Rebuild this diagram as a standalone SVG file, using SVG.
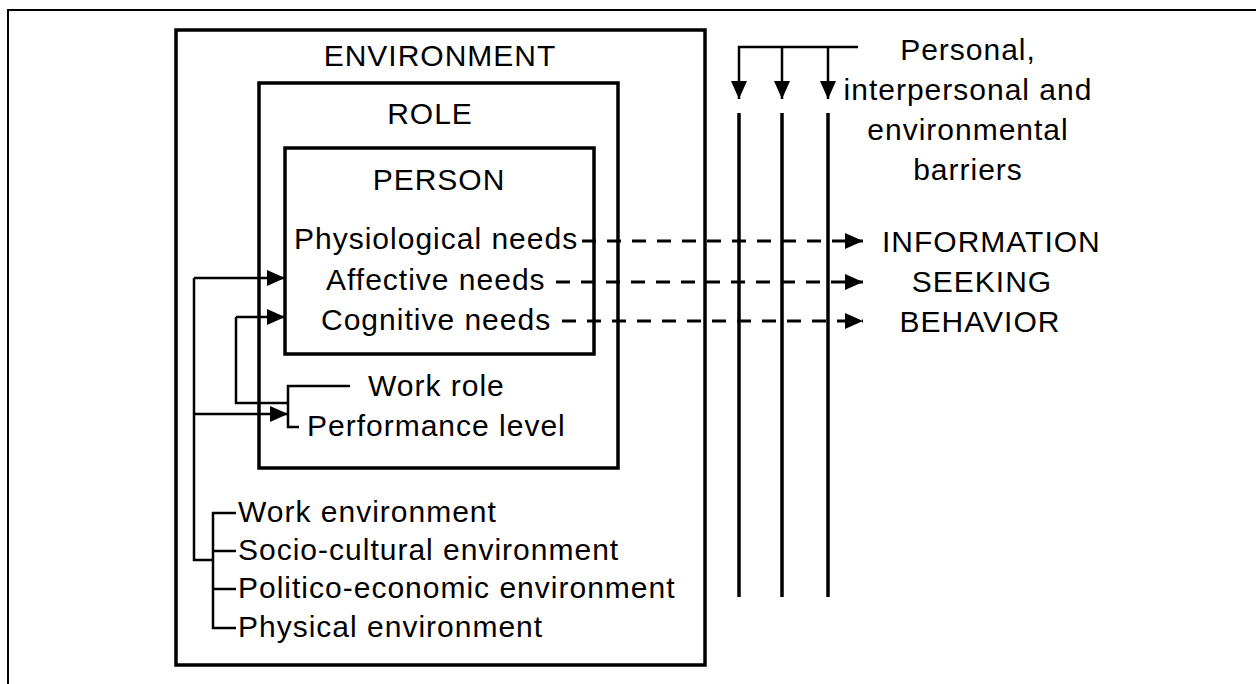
<svg xmlns="http://www.w3.org/2000/svg" width="1256" height="684" viewBox="0 0 1256 684">
<style>
.box{fill:none;stroke:#000;stroke-width:3.5}
.ln{fill:none;stroke:#000;stroke-width:2.5}
.bar{fill:none;stroke:#000;stroke-width:3.5}
.dash{fill:none;stroke:#000;stroke-width:2.8;stroke-dasharray:14 11}
text{font-family:"Liberation Sans",Arial,sans-serif;font-size:30px;fill:#000;letter-spacing:1px}
.c{text-anchor:middle}
</style>
<defs>
<marker id="ah" viewBox="0 0 18 16" refX="18" refY="8" markerWidth="18" markerHeight="16" markerUnits="userSpaceOnUse" orient="auto">
<path d="M0,0 L18,8 L0,16 Z" fill="#000"/>
</marker>
</defs>
<rect width="1256" height="684" fill="#fff"/>
<g id="frame"><path d="M8,684 V10 H1256" fill="none" stroke="#000" stroke-width="2"/></g>
<g id="environment">
<rect class="box" x="176" y="30" width="529" height="635"/>
<text class="c" x="440" y="66">ENVIRONMENT</text>
<text x="238" y="522">Work environment</text>
<text x="238" y="560">Socio-cultural environment</text>
<text x="238" y="598">Politico-economic environment</text>
<text x="238" y="637">Physical environment</text>
</g>
<g id="role">
<rect class="box" x="259" y="83" width="359" height="385"/>
<text class="c" x="430" y="124">ROLE</text>
<text x="368" y="396">Work role</text>
<text x="307" y="436">Performance level</text>
</g>
<g id="person">
<rect class="box" x="285" y="148" width="309" height="206"/>
<text class="c" x="439" y="190">PERSON</text>
<text x="294" y="249">Physiological needs</text>
<text x="326" y="290">Affective needs</text>
<text x="321" y="330">Cognitive needs</text>
</g>
<g id="barriers">
<text class="c" x="968" y="60">Personal,</text>
<text class="c" x="968" y="100">interpersonal and</text>
<text class="c" x="968" y="140">environmental</text>
<text class="c" x="968" y="180">barriers</text>
</g>
<g id="information-seeking-behavior">
<text x="882" y="252">INFORMATION</text>
<text class="c" x="982" y="292">SEEKING</text>
<text class="c" x="980" y="332">BEHAVIOR</text>
</g>
<g id="connectors">
<path class="ln" d="M194,278 V560 H213"/>
<path class="ln" d="M194,278 H285" marker-end="url(#ah)"/>
<path class="ln" d="M194,414 H288" marker-end="url(#ah)"/>
<path class="ln" d="M236,317 V403 H288"/>
<path class="ln" d="M236,317 H285" marker-end="url(#ah)"/>
<path class="ln" d="M350,386 H288 V427 H299"/>
<path class="ln" d="M236,513 H213 V628 H236 M213,551 H236 M213,589 H236"/>
<path class="ln" d="M858,47 H739 V99" marker-end="url(#ah)"/>
<path class="ln" d="M782,47 V99" marker-end="url(#ah)"/>
<path class="ln" d="M828,47 V99" marker-end="url(#ah)"/>
<path class="bar" d="M739,113 V597 M782,113 V597 M828,113 V597"/>
<path class="dash" d="M582,241 H863" marker-end="url(#ah)"/>
<path class="dash" d="M556,282 H863" marker-end="url(#ah)"/>
<path class="dash" d="M562,321 H863" marker-end="url(#ah)"/>
</g>
</svg>
